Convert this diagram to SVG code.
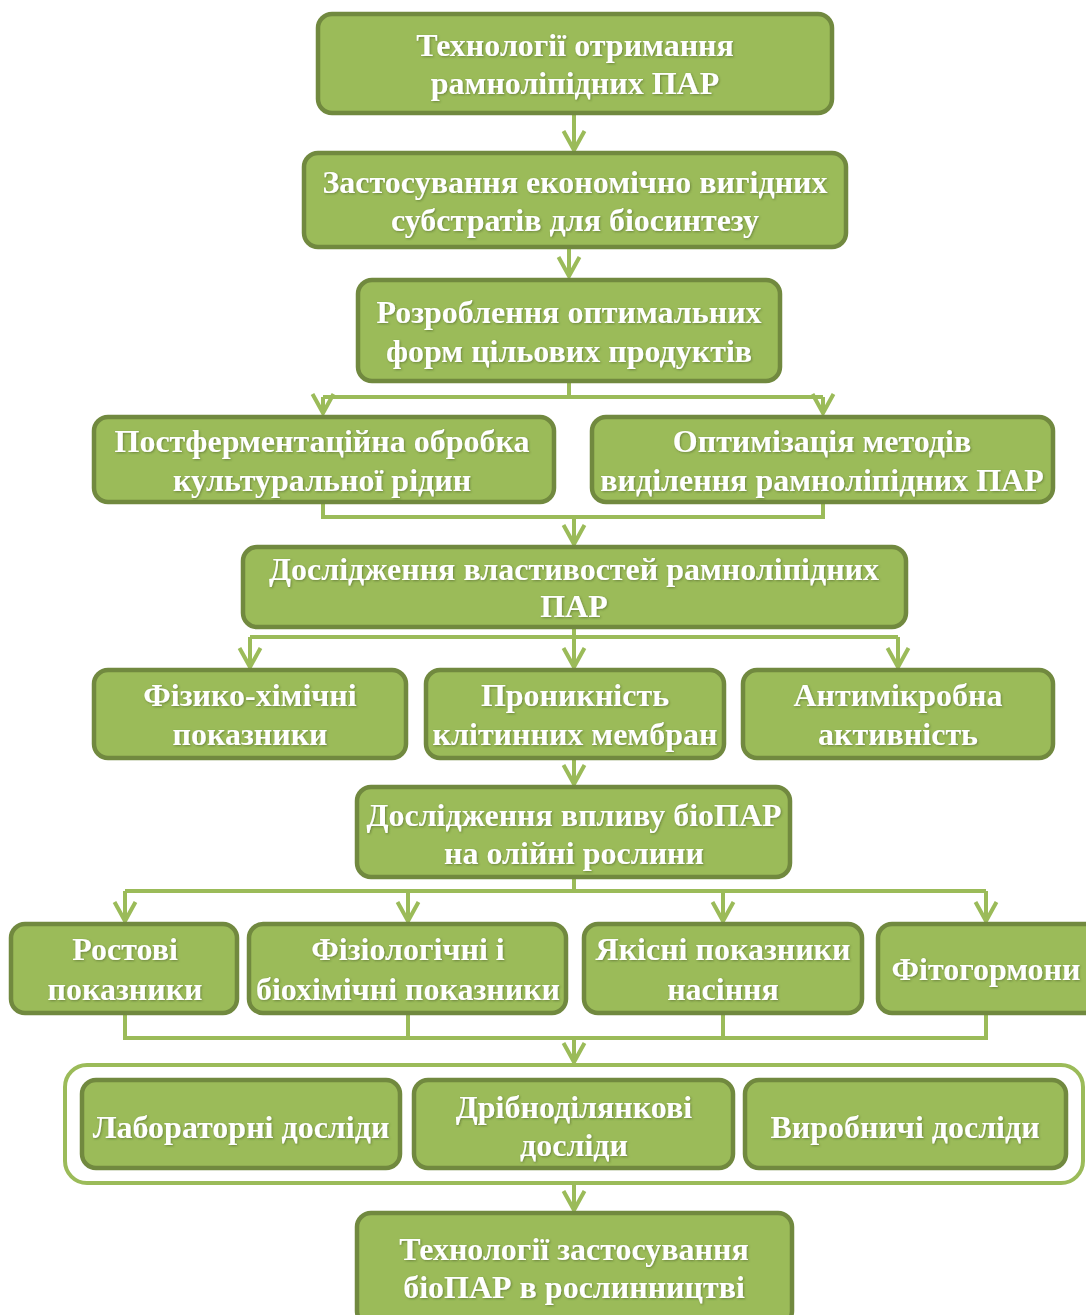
<svg xmlns="http://www.w3.org/2000/svg" width="1086" height="1315" viewBox="0 0 1086 1315">
<defs>
<style>
.box{fill:#9bbb59;stroke:#71893f;stroke-width:4.5}
.frame{fill:#ffffff;stroke:#9bbb59;stroke-width:4}
.conn{fill:none;stroke:#9bbb59;stroke-width:4;stroke-linejoin:miter}
.t{font-family:"Liberation Serif","Times New Roman",serif;font-weight:bold;font-size:32px;fill:#ffffff;text-anchor:middle;filter:url(#sh)}
</style>
<filter id="sh" x="-5%" y="-20%" width="110%" height="140%">
<feDropShadow dx="1" dy="1" stdDeviation="0.8" flood-color="#3d4f1c" flood-opacity="0.5"/>
</filter>
<marker id="v" markerUnits="userSpaceOnUse" viewBox="0 0 24 24" markerWidth="24" markerHeight="24" refX="21" refY="12" orient="auto" overflow="visible">
<path d="M2,1.5 L21,12 L2,22.5" fill="none" stroke="#9bbb59" stroke-width="4"/>
</marker>
</defs>
<rect width="1086" height="1315" fill="#ffffff"/>
<g id="connectors">
<path class="conn" d="M574,113 V150" marker-end="url(#v)"/>
<path class="conn" d="M569,247 V276" marker-end="url(#v)"/>
<path class="conn" d="M569,381 V397 M323,397 H823"/>
<path class="conn" d="M323,397 V413" marker-end="url(#v)"/>
<path class="conn" d="M823,397 V413" marker-end="url(#v)"/>
<path class="conn" d="M323,502 V517 H823 V502"/>
<path class="conn" d="M574,517 V544" marker-end="url(#v)"/>
<path class="conn" d="M574,627 V637 M250,637 H898"/>
<path class="conn" d="M250,637 V667" marker-end="url(#v)"/>
<path class="conn" d="M574,637 V667" marker-end="url(#v)"/>
<path class="conn" d="M898,637 V667" marker-end="url(#v)"/>
<path class="conn" d="M574,758 V784" marker-end="url(#v)"/>
<path class="conn" d="M574,877 V891 M125,891 H986"/>
<path class="conn" d="M125,891 V921" marker-end="url(#v)"/>
<path class="conn" d="M408,891 V921" marker-end="url(#v)"/>
<path class="conn" d="M723,891 V921" marker-end="url(#v)"/>
<path class="conn" d="M986,891 V921" marker-end="url(#v)"/>
<path class="conn" d="M125,1013 V1038 H986 V1013 M408,1013 V1038 M723,1013 V1038"/>
<path class="conn" d="M574,1038 V1062" marker-end="url(#v)"/>
<path class="conn" d="M574,1183 V1210" marker-end="url(#v)"/>
</g>
<g id="n1"><rect class="box" x="318" y="14" width="514" height="99" rx="14"/>
<text class="t" x="575" y="56">Технології отримання</text><text class="t" x="575" y="94">рамноліпідних ПАР</text></g>
<g id="n2"><rect class="box" x="304" y="153" width="542" height="94" rx="14"/>
<text class="t" x="575" y="193">Застосування економічно вигідних</text><text class="t" x="575" y="231">субстратів для біосинтезу</text></g>
<g id="n3"><rect class="box" x="358" y="280" width="422" height="101" rx="14"/>
<text class="t" x="569" y="323">Розроблення оптимальних</text><text class="t" x="569" y="362">форм цільових продуктів</text></g>
<g id="n4a"><rect class="box" x="94" y="417" width="460" height="85" rx="14"/>
<text class="t" x="322" y="452">Постферментаційна обробка</text><text class="t" x="322" y="491">культуральної рідин</text></g>
<g id="n4b"><rect class="box" x="592" y="417" width="461" height="85" rx="14"/>
<text class="t" x="822" y="452">Оптимізація методів</text><text class="t" x="822" y="491">виділення рамноліпідних ПАР</text></g>
<g id="n5"><rect class="box" x="243" y="547" width="663" height="80" rx="14"/>
<text class="t" x="574" y="580">Дослідження властивостей рамноліпідних</text><text class="t" x="574" y="617">ПАР</text></g>
<g id="n6a"><rect class="box" x="94" y="670" width="312" height="88" rx="14"/>
<text class="t" x="250" y="706">Фізико-хімічні</text><text class="t" x="250" y="745">показники</text></g>
<g id="n6b"><rect class="box" x="426" y="670" width="298" height="88" rx="14"/>
<text class="t" x="575" y="706">Проникність</text><text class="t" x="575" y="745">клітинних мембран</text></g>
<g id="n6c"><rect class="box" x="743" y="670" width="310" height="88" rx="14"/>
<text class="t" x="898" y="706">Антимікробна</text><text class="t" x="898" y="745">активність</text></g>
<g id="n7"><rect class="box" x="357" y="787" width="433" height="90" rx="14"/>
<text class="t" x="574" y="826">Дослідження впливу біоПАР</text><text class="t" x="574" y="864">на олійні рослини</text></g>
<g id="n8a"><rect class="box" x="11" y="924" width="226" height="89" rx="14"/>
<text class="t" x="125" y="960">Ростові</text><text class="t" x="125" y="1000">показники</text></g>
<g id="n8b"><rect class="box" x="249" y="924" width="317" height="89" rx="14"/>
<text class="t" x="408" y="960">Фізіологічні і</text><text class="t" x="408" y="1000">біохімічні показники</text></g>
<g id="n8c"><rect class="box" x="584" y="924" width="278" height="89" rx="14"/>
<text class="t" x="723" y="960">Якісні показники</text><text class="t" x="723" y="1000">насіння</text></g>
<g id="n8d"><rect class="box" x="878" y="924" width="222" height="89" rx="14"/>
<text class="t" x="986" y="980">Фітогормони</text></g>
<g id="container"><rect class="frame" x="65" y="1065" width="1018" height="118" rx="22"/></g>
<g id="n9a"><rect class="box" x="82" y="1080" width="318" height="88" rx="14"/>
<text class="t" x="241" y="1138">Лабораторні досліди</text></g>
<g id="n9b"><rect class="box" x="414" y="1080" width="319" height="88" rx="14"/>
<text class="t" x="574" y="1118">Дрібноділянкові</text><text class="t" x="574" y="1156">досліди</text></g>
<g id="n9c"><rect class="box" x="745" y="1080" width="321" height="88" rx="14"/>
<text class="t" x="905" y="1138">Виробничі досліди</text></g>
<g id="n10"><rect class="box" x="357" y="1213" width="435" height="112" rx="14"/>
<text class="t" x="574" y="1260">Технології застосування</text><text class="t" x="574" y="1298">біоПАР в рослинництві</text></g>
</svg>
